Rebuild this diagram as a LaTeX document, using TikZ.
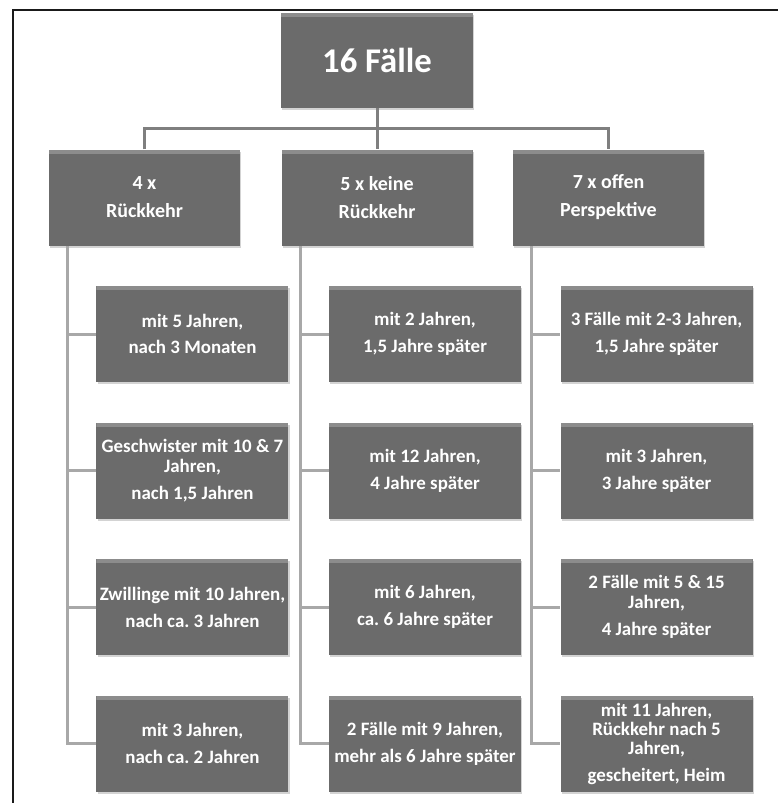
\documentclass[tikz,border=0pt]{standalone}
\usepackage{fontspec}
\setsansfont{Carlito}
\usetikzlibrary{positioning, calc, shadows}
\definecolor{clrbox}{HTML}{6B6B6B}
\definecolor{clrbevel}{HTML}{8C8C8C}
\definecolor{clrtrunk}{HTML}{7F7F7F}
\definecolor{clrbranch}{HTML}{A8A8A8}
\definecolor{clrframe}{HTML}{1A1A1A}
\frenchspacing

\begin{document}
\begin{tikzpicture}[
    x=0.75pt, y=-0.75pt,
    every node/.style={font=\sffamily},
    block/.style={fill=clrbox, text=white, align=center, inner sep=1pt,
                  drop shadow={opacity=0.35, shadow xshift=1pt, shadow yshift=-1.5pt},
                  path picture={\fill[clrbevel] (path picture bounding box.north west) rectangle ([yshift=-3pt]path picture bounding box.north east);}},
    rootbox/.style={block, minimum width=144pt, minimum height=71.25pt,
                    font=\sffamily\bfseries\fontsize{26}{30}\selectfont},
    catbox/.style={block, minimum width=143.25pt, minimum height=72pt,
                   font=\sffamily\bfseries\fontsize{15}{21}\selectfont},
    casebox/.style={block, minimum width=144pt, minimum height=72pt,
                    font=\sffamily\bfseries\fontsize{14.2}{20}\selectfont},
    trunk/.style={draw=clrtrunk, line width=2.25pt},
    branch/.style={draw=clrbranch, line width=2.25pt},
]
\useasboundingbox (0,0) rectangle (778,803);
\draw[clrframe, line width=0.9pt] (13,803) -- (13,10) -- (778,10);

\node[rootbox] (n_0) at (377,60.5) {16 Fälle};
\node[catbox, below=30.75pt of n_0] (n_2) {5 x keine\\Rückkehr};
\node[catbox, left=30.75pt of n_2] (n_1) {4 x\\Rückkehr};
\node[catbox, right=30pt of n_2] (n_3) {7 x offen\\Perspektive};

\node[casebox, below=30pt of n_1, xshift=36pt] (n_1_1) {mit 5 Jahren,\\nach 3 Monaten};
\node[casebox, below=30pt of n_1_1] (n_1_2) {Geschwister mit 10 \& 7\\[-4.5pt]Jahren,\\nach 1,5 Jahren};
\node[casebox, below=30pt of n_1_2] (n_1_3) {Zwillinge mit 10 Jahren,\\nach ca. 3 Jahren};
\node[casebox, below=30pt of n_1_3] (n_1_4) {mit 3 Jahren,\\nach ca. 2 Jahren};

\node[casebox, below=30pt of n_2, xshift=36pt] (n_2_1) {mit 2 Jahren,\\1,5 Jahre später};
\node[casebox, below=30pt of n_2_1] (n_2_2) {mit 12 Jahren,\\4 Jahre später};
\node[casebox, below=30pt of n_2_2] (n_2_3) {mit 6 Jahren,\\ca. 6 Jahre später};
\node[casebox, below=30pt of n_2_3] (n_2_4) {2 Fälle mit 9 Jahren,\\mehr als 6 Jahre später};

\node[casebox, below=30pt of n_3, xshift=36pt] (n_3_1) {3 Fälle mit 2-3 Jahren,\\1,5 Jahre später};
\node[casebox, below=30pt of n_3_1] (n_3_2) {mit 3 Jahren,\\3 Jahre später};
\node[casebox, below=30pt of n_3_2] (n_3_3) {2 Fälle mit 5 \& 15\\[-5pt]Jahren,\\4 Jahre später};
\node[casebox, below=30pt of n_3_3] (n_3_4) {mit 11 Jahren,\\[-5.5pt]Rückkehr nach 5\\[-5.5pt]Jahren,\\gescheitert, Heim};

% root to categories
\coordinate (bar) at ($(n_0.south)!0.5!(n_2.north)$);
\draw[trunk] (n_0.south) -- (n_2.north);
\draw[trunk] (n_1.north) |- (bar) -| (n_3.north);

% categories to cases
\draw[branch] ([xshift=14.25pt]n_1.south west) |- (n_1_1.west);
\draw[branch] ([xshift=14.25pt]n_1.south west) |- (n_1_2.west);
\draw[branch] ([xshift=14.25pt]n_1.south west) |- (n_1_3.west);
\draw[branch] ([xshift=14.25pt]n_1.south west) |- (n_1_4.west);
\draw[branch] ([xshift=14.25pt]n_2.south west) |- (n_2_1.west);
\draw[branch] ([xshift=14.25pt]n_2.south west) |- (n_2_2.west);
\draw[branch] ([xshift=14.25pt]n_2.south west) |- (n_2_3.west);
\draw[branch] ([xshift=14.25pt]n_2.south west) |- (n_2_4.west);
\draw[branch] ([xshift=14.25pt]n_3.south west) |- (n_3_1.west);
\draw[branch] ([xshift=14.25pt]n_3.south west) |- (n_3_2.west);
\draw[branch] ([xshift=14.25pt]n_3.south west) |- (n_3_3.west);
\draw[branch] ([xshift=14.25pt]n_3.south west) |- (n_3_4.west);
\end{tikzpicture}
\end{document}
